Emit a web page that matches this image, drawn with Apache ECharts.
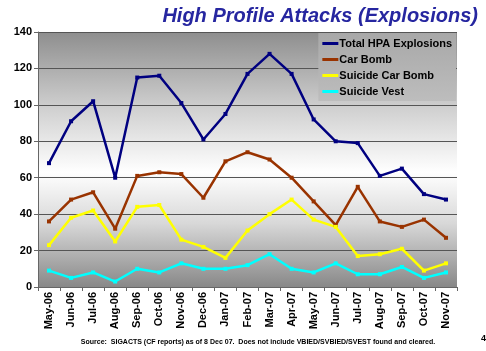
<!DOCTYPE html>
<html><head><meta charset="utf-8">
<script src="https://cdn.jsdelivr.net/npm/echarts@6/dist/echarts.min.js"></script>
<style>html,body{margin:0;padding:0;background:#fff}#c{width:486px;height:351px}</style>
</head><body><div id="c"></div>
<script>
var categories = ['May-06','Jun-06','Jul-06','Aug-06','Sep-06','Oct-06','Nov-06','Dec-06','Jan-07','Feb-07','Mar-07','Apr-07','May-07','Jun-07','Jul-07','Aug-07','Sep-07','Oct-07','Nov-07'];
var totalHPA = [68, 91, 102, 60, 115, 116, 101, 81, 95, 117, 128, 117, 92, 80, 79, 61, 65, 51, 48];
var carBomb = [36, 48, 52, 32, 61, 63, 62, 49, 69, 74, 70, 60, 47, 34, 55, 36, 33, 37, 27];
var suicideCarBomb = [23, 38, 42, 25, 44, 45, 26, 22, 16, 31, 40, 48, 37, 33, 17, 18, 21, 9, 13];
var suicideVest = [9, 5, 8, 3, 10, 8, 13, 10, 10, 12, 18, 10, 8, 13, 7, 7, 11, 5, 8];

var chart = echarts.init(document.getElementById('c'));
function mk(name, data, color) {
  return {name: name, type: 'line', data: data, symbol: 'rect', symbolSize: 4,
    lineStyle: {color: color, width: 2.5}, itemStyle: {color: color}, z: 3};
}
var font = 'Arial, "Liberation Sans", sans-serif';
chart.setOption({
  animation: false,
  title: [{text: 'High Profile Attacks (Explosions)', right: 3, top: 1,
    textStyle: {fontFamily: font, fontSize: 20, fontWeight: 'bold', fontStyle: 'italic', color: '#2626a0'}},
    {text: 'Source:  SIGACTS (CF reports) as of 8 Dec 07.  Does not include VBIED/SVBIED/SVEST found and cleared.',
     left: 253, textAlign: 'center', top: 334,
     textStyle: {fontFamily: font, fontSize: 7, fontWeight: 'bold', color: '#000'}},
    {text: '4', left: 476, top: 329, textStyle: {fontFamily: font, fontSize: 9, fontWeight: 'bold', color: '#000'}}],
  grid: {left: 38, right: 29, top: 32, bottom: 64, show: true, borderWidth: 0,
    backgroundColor: {type: 'linear', x: 0, y: 0, x2: 0, y2: 1, colorStops: [
      {offset: 0, color: '#8e8e8e'}, {offset: 0.3, color: '#d0d0d0'}, {offset: 0.55, color: '#ffffff'},
      {offset: 0.75, color: '#d8d8d8'}, {offset: 1, color: '#888888'}]}},
  legend: {orient: 'vertical', right: 30, top: 33, itemWidth: 16, itemHeight: 3, itemGap: 5,
    icon: 'rect', padding: [5, 4, 4, 4],
    backgroundColor: {type: 'linear', x: 0, y: 0, x2: 0, y2: 1, colorStops: [
      {offset: 0, color: '#a8a8a8'}, {offset: 1, color: '#bdbdbd'}]},
    textStyle: {fontFamily: font, fontSize: 11, fontWeight: 'bold', color: '#000', padding: [0, 0, 0, -4], lineHeight: 11},
    data: ['Total HPA Explosions', 'Car Bomb', 'Suicide Car Bomb', 'Suicide Vest']},
  xAxis: {type: 'category', data: categories, boundaryGap: true,
    axisLine: {lineStyle: {color: '#666'}},
    axisTick: {show: true, length: 4, lineStyle: {color: '#666'}},
    axisLabel: {rotate: 90, fontFamily: font, fontSize: 11, fontWeight: 'bold', color: '#000', margin: 5, interval: 0},
    splitLine: {show: false}},
  yAxis: {type: 'value', min: 0, max: 140, interval: 20,
    axisLine: {show: true, lineStyle: {color: '#666'}},
    axisTick: {show: true, length: 4, lineStyle: {color: '#666'}},
    axisLabel: {fontFamily: font, fontSize: 11, fontWeight: 'bold', color: '#000', margin: 6},
    splitLine: {show: true, lineStyle: {color: '#555', width: 1}}},
  series: [mk('Total HPA Explosions', totalHPA, '#000080'), mk('Car Bomb', carBomb, '#993300'),
    mk('Suicide Car Bomb', suicideCarBomb, '#ffff00'), mk('Suicide Vest', suicideVest, '#00ffff')]
});
</script></body></html>
